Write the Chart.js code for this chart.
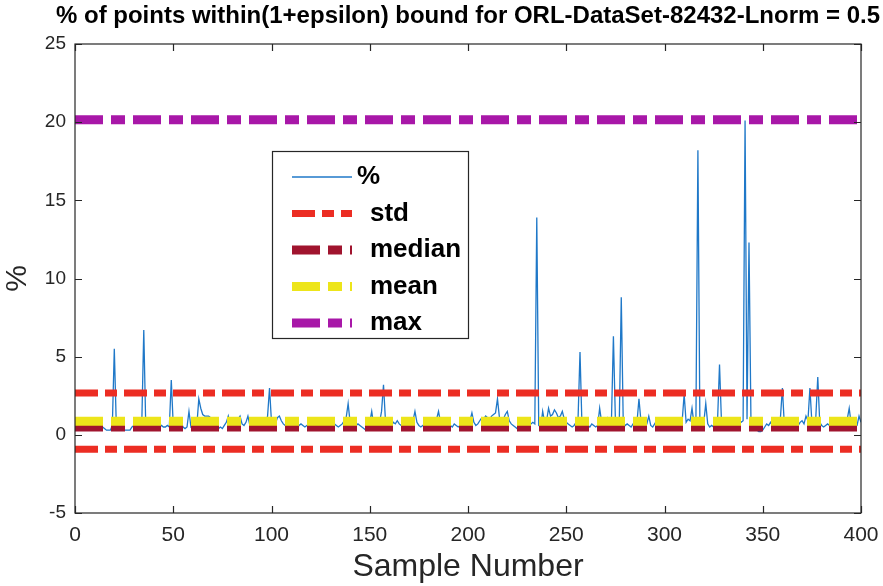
<!DOCTYPE html>
<html>
<head>
<meta charset="utf-8">
<script src="https://cdn.jsdelivr.net/npm/chart.js@4.4.1/dist/chart.umd.min.js"></script>
<style>
  body { margin: 0; background: #fff; }
  #wrap { width: 883px; height: 586px; }
</style>
</head>
<body>
<div id="wrap"><canvas id="myChart" width="883" height="586"></canvas></div>
<script>
// percent of points within bound, samples 1..400
const pct = [
  0.6,0.5,0.7,0.6,0.5,0.8,0.6,0.5,0.7,0.6,0.5,0.6,0.7,0.5,0.4,0.3,0.3,0.3,0.6,5.5,
  0.7,0.6,0.5,0.4,0.3,0.3,0.3,0.3,0.5,0.6,0.7,0.6,0.5,0.8,6.7,0.6,0.5,0.7,0.6,0.5,
  0.6,0.7,0.5,0.6,0.5,0.5,0.6,0.5,3.5,0.6,0.7,0.5,0.6,0.8,0.5,0.4,0.5,1.5,0.5,0.6,
  0.7,0.6,2.3,1.7,1.3,1.2,1.2,1.2,1.1,0.8,0.6,0.5,0.4,0.5,0.4,0.6,0.8,1.2,0.6,0.7,
  0.6,0.8,1.0,1.2,0.7,0.6,0.8,1.2,0.6,0.7,0.5,0.6,0.7,0.6,0.5,0.8,0.7,1.2,3.0,0.8,
  0.6,0.7,1.1,1.2,0.9,0.7,0.6,0.5,0.3,0.3,0.3,0.3,0.4,0.6,0.7,0.6,0.5,0.6,0.7,0.5,
  0.6,0.5,0.7,0.6,0.5,0.6,0.7,0.5,0.6,0.5,0.6,0.7,0.6,0.5,0.6,0.7,0.9,1.1,2.0,0.8,
  0.6,0.5,0.6,0.7,0.6,0.5,0.4,0.3,0.6,0.8,1.5,0.6,0.7,0.6,0.8,1.5,3.2,0.9,0.6,0.7,
  0.6,0.8,0.7,0.9,0.7,0.6,0.7,0.8,0.6,0.5,0.7,0.9,1.5,0.8,0.6,0.5,0.6,0.7,0.5,0.6,
  0.7,0.6,0.9,1.0,1.5,0.8,0.6,0.7,0.5,0.4,0.6,0.5,0.7,0.6,0.5,0.6,0.7,0.8,0.6,0.7,
  0.9,1.4,0.8,0.6,0.7,0.9,1.1,1.0,1.2,1.1,1.0,1.2,1.3,1.4,2.3,1.1,0.9,1.0,1.3,1.5,
  0.9,0.7,0.6,0.5,0.4,0.5,0.6,0.4,0.3,0.5,0.6,0.7,0.8,0.7,13.9,0.6,0.5,1.5,0.8,0.9,
  1.7,1.2,1.3,1.6,1.4,1.1,1.2,1.5,1.0,0.8,0.7,0.6,0.5,0.6,0.8,1.0,5.3,0.6,0.4,0.5,
  0.6,0.5,0.7,0.6,0.5,0.6,1.7,0.8,0.6,0.7,1.1,1.0,0.9,6.3,1.0,0.8,0.9,8.8,0.8,0.6,
  0.7,0.6,0.5,0.7,0.6,0.8,2.3,0.9,0.6,0.5,0.7,1.2,0.6,0.5,0.7,0.9,0.6,0.5,0.6,0.7,
  0.6,0.5,0.6,0.7,0.6,0.8,0.7,0.6,0.9,2.6,0.8,1.0,0.9,1.7,0.7,1.1,18.2,0.9,0.6,0.8,
  2.0,0.7,0.5,0.6,0.5,0.7,0.9,4.5,0.8,0.6,0.5,0.6,0.7,0.6,0.7,0.8,0.9,1.0,0.8,0.9,
  20.1,1.0,12.3,0.9,0.7,0.5,0.3,0.2,0.2,0.3,0.5,0.7,0.6,0.8,0.6,0.7,0.9,1.0,1.1,3.0,
  0.6,0.5,0.6,0.7,0.6,0.5,0.7,0.6,0.8,0.9,0.7,1.2,0.9,3.0,0.8,0.9,1.1,3.7,0.8,0.6,
  0.5,0.6,0.7,0.6,0.5,0.6,0.7,0.6,0.5,0.6,0.7,0.9,1.0,1.7,0.7,0.6,0.5,0.6,1.2,0.8
];
const statNames = ['std', 'median', 'mean', 'max'];
const meanVal = 0.875;
const stdVal = 1.8;
const medianVal = 0.5;
const maxVal = 20.15;
const xTicks = [0, 50, 100, 150, 200, 250, 300, 350, 400];
const yTicks = [-5, 0, 5, 10, 15, 20, 25];
const titleText = '% of points within(1+epsilon) bound for ORL-DataSet-82432-Lnorm = 0.5';

const FONT = "'Liberation Sans', Arial, sans-serif";

function hline(v) {
    return [{ x: 0, y: v }, { x: 400, y: v }];
}

var pctPoints = pct.map(function (v, i) { return { x: i + 1, y: v }; });

const frame = {
    id: 'frame',
    afterDatasetsDraw(chart) {
        const ctx = chart.ctx, a = chart.chartArea;
        const xs = chart.scales.x, ys = chart.scales.y;
        ctx.save();
        ctx.strokeStyle = '#262626';
        ctx.lineWidth = 1.2;
        ctx.strokeRect(a.left, a.top, a.right - a.left, a.bottom - a.top);
        ctx.beginPath();
        xTicks.forEach(function (t) {
            const px = Math.round(xs.getPixelForValue(t)) + 0.5;
            ctx.moveTo(px, a.bottom); ctx.lineTo(px, a.bottom - 7);
            ctx.moveTo(px, a.top); ctx.lineTo(px, a.top + 7);
        });
        yTicks.forEach(function (t) {
            const py = Math.round(ys.getPixelForValue(t)) + 0.5;
            ctx.moveTo(a.left, py); ctx.lineTo(a.left + 7, py);
            ctx.moveTo(a.right, py); ctx.lineTo(a.right - 7, py);
        });
        ctx.stroke();
        ctx.restore();
    },
    afterDraw(chart) {
        const ctx = chart.ctx;
        ctx.save();
        // title
        ctx.fillStyle = '#000';
        ctx.font = 'bold 24px ' + FONT;
        ctx.textAlign = 'center';
        ctx.textBaseline = 'alphabetic';
        ctx.fillText(titleText, 468, 23);
        // legend box, like matlab's
        const bx = 272, by = 151, bw = 196, bh = 187;
        ctx.fillStyle = '#fff';
        ctx.fillRect(bx, by, bw, bh);
        ctx.strokeStyle = '#262626';
        ctx.lineWidth = 1.2;
        ctx.strokeRect(bx + 0.5, by + 0.5, bw, bh);
        var items = chart.data.datasets.filter(function (d) { return !d.noLegend; });
        ctx.textAlign = 'left';
        items.forEach(function (d, i) {
            const y = 177 + i * 36.5;
            ctx.beginPath();
            ctx.strokeStyle = d.borderColor;
            ctx.lineWidth = d.borderWidth;
            ctx.setLineDash(d.borderDash || []);
            ctx.moveTo(292, y);
            ctx.lineTo(352, y);
            ctx.stroke();
            ctx.setLineDash([]);
            ctx.fillStyle = '#000';
            ctx.font = 'bold 26px ' + FONT;
            ctx.textBaseline = 'middle';
            ctx.fillText(d.label, i === 0 ? 357 : 370, y);
        });
        ctx.restore();
    }
};

var ctx = document.getElementById('myChart').getContext('2d');
var myChart = new Chart(ctx, {
    type: 'line',
    data: {
        datasets: [
            { label: '%', data: pctPoints, borderColor: '#1f78c8', borderWidth: 1.3, order: 6 },
            { label: statNames[0], data: hline(meanVal + stdVal), borderColor: '#ec2d23', borderWidth: 7, borderDash: [23, 7, 12, 7], order: 5 },
            { label: statNames[1], data: hline(medianVal), borderColor: '#a0142e', borderWidth: 9, borderDash: [28, 8, 14, 8], order: 4 },
            { label: statNames[2], data: hline(meanVal), borderColor: '#ede51a', borderWidth: 9, borderDash: [28, 8, 14, 8], order: 3 },
            { label: statNames[3], data: hline(maxVal), borderColor: '#a817a8', borderWidth: 9, borderDash: [28, 8, 14, 8], order: 2 },
            { label: statNames[0], noLegend: true, data: hline(meanVal - stdVal), borderColor: '#ec2d23', borderWidth: 7, borderDash: [23, 7, 12, 7], order: 5 }
        ]
    },
    options: {
        responsive: false,
        animation: false,
        devicePixelRatio: 1,
        layout: { padding: { top: 44, right: 22 } },
        elements: { point: { radius: 0 }, line: { tension: 0, borderCapStyle: 'butt' } },
        scales: {
            x: {
                type: 'linear', min: 0, max: 400,
                afterFit: function (s) { s.height = 73; s.paddingLeft = 0; s.paddingRight = 0; },
                afterBuildTicks: function (s) { s.ticks = xTicks.map(function (v) { return { value: v }; }); },
                grid: { display: false, drawTicks: false },
                border: { display: false },
                ticks: { color: '#262626', padding: 10, font: { family: FONT, size: 21 }, maxRotation: 0 },
                title: { display: true, text: 'Sample Number', color: '#262626', padding: { top: 0, bottom: 0 }, font: { family: FONT, size: 32 } }
            },
            y: {
                min: -5, max: 25,
                afterFit: function (s) { s.width = 75; s.paddingTop = 0; s.paddingBottom = 0; },
                afterBuildTicks: function (s) { s.ticks = yTicks.map(function (v) { return { value: v }; }); },
                grid: { display: false, drawTicks: false },
                border: { display: false },
                ticks: { color: '#262626', padding: 9, font: { family: FONT, size: 19 } },
                title: { display: true, text: '%', color: '#262626', padding: { top: 0, bottom: 0 }, font: { family: FONT, size: 30 } }
            }
        },
        plugins: {
            legend: { display: false },
            tooltip: { enabled: false },
            title: { display: false }
        }
    },
    plugins: [frame]
});
</script>
</body>
</html>
